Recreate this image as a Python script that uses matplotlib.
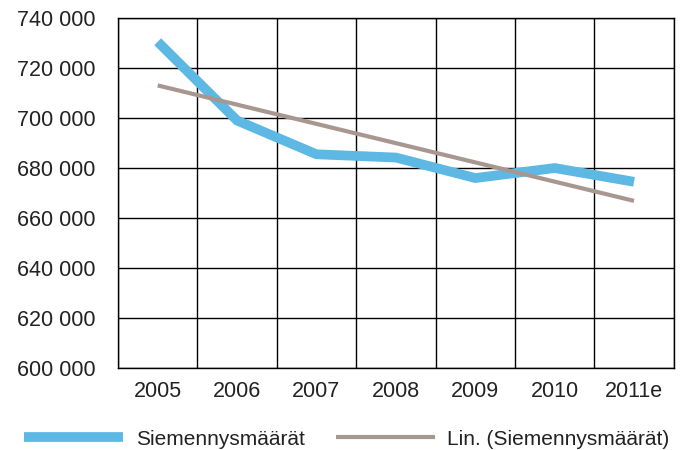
import numpy as np
import matplotlib.pyplot as plt
from matplotlib.ticker import FuncFormatter

years = ['2005', '2006', '2007', '2008', '2009', '2010', '2011e']
amounts = [730500, 699000, 685500, 684200, 676000, 680000, 674500]
yticks = [600000, 620000, 640000, 660000, 680000, 700000, 720000, 740000]

plt.rcParams['font.family'] = ['Liberation Sans', 'DejaVu Sans']

fig = plt.figure(figsize=(6.96, 4.5), dpi=100)
ax = fig.add_axes([0.1695, 0.182, 0.7985, 0.778])

x = np.arange(len(years))
# linear trend (Excel "Lin.")
k, b = np.polyfit(x, amounts, 1)
trend = k * x + b

ax.plot(x, amounts, color='#5DB8E3', lw=7, solid_capstyle='butt',
        solid_joinstyle='miter', label='Siemennysmäärät', zorder=3)
ax.plot(x, trend, color='#A89790', lw=3, solid_capstyle='butt',
        label='Lin. (Siemennysmäärät)', zorder=4)

ax.set_xlim(-0.5, len(years) - 0.5)
ax.set_ylim(600000, 740000)
ax.set_yticks(yticks)
ax.yaxis.set_major_formatter(FuncFormatter(lambda v, p: f'{int(v):,}'.replace(',', ' ')))
ax.set_xticks(x)
ax.set_xticklabels(years)
ax.set_xticks(np.arange(len(years) + 1) - 0.5, minor=True)

ax.grid(True, axis='y', which='major', color='black', lw=1)
ax.grid(True, axis='x', which='minor', color='black', lw=1)
ax.tick_params(which='both', length=0, labelsize=15.5, colors='#222222')
ax.tick_params(axis='y', pad=16)
ax.tick_params(axis='x', pad=9)
for s in ax.spines.values():
    s.set_color('black')
    s.set_linewidth(1)

fig.legend(loc='center left', bbox_to_anchor=(0.008, 0.024), ncol=2, frameon=False,
           fontsize=15, handlelength=4.75, handletextpad=0.6, columnspacing=1.5,
           labelcolor='#222222')

fig.savefig('out.png', dpi=100)
